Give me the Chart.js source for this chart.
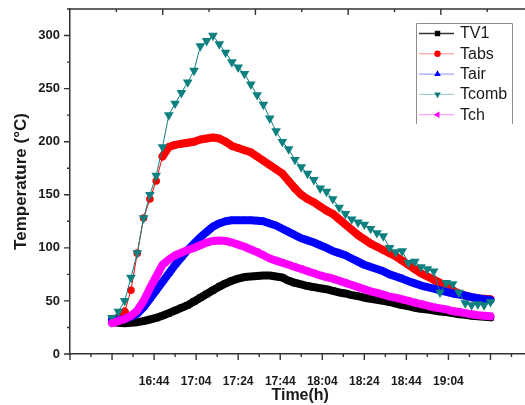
<!DOCTYPE html>
<html>
<head>
  <meta charset="UTF-8">
  <title>Temperature vs time</title>
  <script src="https://cdn.jsdelivr.net/npm/chart.js"></script>
  <style>
    html, body { margin: 0; padding: 0; overflow: hidden; background: #fff; }
    canvas { display: block; }
  </style>
</head>
<body>
  <canvas id="chart" width="536" height="405"></canvas>

  <script>
    // time axis in minutes after 16:04, one reading every 3 min
    const minutes = [20, 23, 26, 29, 32, 35, 38, 41, 44, 47,
                     50, 53, 56, 59, 62, 65, 68, 71, 74, 77,
                     80, 83, 86, 89, 92, 95, 98, 101, 104, 107,
                     110, 113, 116, 119, 122, 125, 128, 131, 134, 137,
                     140, 143, 146, 149, 152, 155, 158, 161, 164, 167,
                     170, 173, 176, 179, 182, 185, 188, 191, 194, 197,
                     200];

    const tv1 = [30, 29.5, 29, 29.5, 30, 31, 32.5, 34, 36, 38.5,
                 41, 43.5, 46, 49.5, 53, 56.5, 60, 63.5, 66.5, 69,
                 71, 72.5, 73, 73.5, 74, 74, 73, 72, 69, 67,
                 65.5, 64, 63, 62, 61, 59.5, 58, 57, 55.5, 54.5,
                 53, 52, 51, 50, 49, 47.5, 46, 45, 43.5, 42.5,
                 42, 41, 40, 39.5, 38.5, 37.5, 37, 36, 35.5, 35,
                 34.5];

    const tabs = [32, 34, 40, 60, 95, 128, 146, 163, 186, 195,
                  197, 198, 199, 200, 202, 203, 204, 203, 200, 196,
                  194, 192, 190, 186, 182, 178, 174, 170, 163, 156,
                  150, 146, 143, 139, 135, 132, 127, 122, 117, 112,
                  108, 104, 101, 98, 95, 92, 88, 84, 80, 76,
                  73, 70, 67, 63, 60, 57, 55, 53.5, 52.5, 52,
                  51.5];

    const tair = [33, 32, 33, 35, 38, 44, 52, 60, 68, 76,
                  84, 91, 98, 104, 110, 115, 120, 123, 125, 126,
                  126, 126, 126, 125.5, 125, 123, 121, 118, 115, 112,
                  109, 107, 105, 102.5, 100, 97, 95, 93, 90, 87,
                  84, 82, 80, 78, 75, 73, 71, 68.5, 66.5, 64.5,
                  63, 61.5, 60, 58.5, 57, 56, 55, 53.5, 52.5, 51.5,
                  51];

    const tcomb = [34, 40, 50, 72, 95, 128, 150, 168, 195, 225,
                   236, 246, 256, 267, 290, 295, 300, 292, 284, 275,
                   270, 264, 254, 244, 235, 222, 210, 200, 193, 183,
                   176, 170, 164, 156, 153, 146, 138, 132, 127, 124,
                   122, 118, 114, 111, 100, 96, 97, 86, 87, 82,
                   80, 78, 58, 67, 66, 58, 48, 46, 47, 46,
                   49];

    const tch = [29, 31, 33, 36, 41, 50, 62, 73, 84, 89,
                 93, 95.5, 98, 100, 102.5, 105, 106.5, 107, 106.5, 105,
                 103, 101, 98.5, 96, 93, 90, 88, 86, 84, 82,
                 80, 78, 76, 74, 72.5, 71, 69, 67, 65, 63,
                 61, 59, 57.5, 56, 54, 53, 51.5, 50, 48.5, 47,
                 45.5, 44, 43, 42, 40.5, 39.5, 38.5, 37.5, 36.5, 36,
                 35.5];

    // labelled ticks on the time axis
    const labelMinutes = [40, 60, 80, 100, 120, 140, 160, 180];
    const timeLabels = ['16:44', '17:04', '17:24', '17:44', '18:04', '18:24', '18:44', '19:04'];

    const series = [
      { label: 'TV1',   values: tv1,   color: '#000000', shape: 'rect',     rot: 0,   r: 4.6, band: 8, gap: Infinity },
      { label: 'Tabs',  values: tabs,  color: '#ff0000', shape: 'circle',   rot: 0,   r: 3.8, band: 8, gap: 14 },
      { label: 'Tair',  values: tair,  color: '#0000ff', shape: 'triangle', rot: 0,   r: 4.6, band: 8, gap: Infinity },
      { label: 'Tcomb', values: tcomb, color: '#0f8080', shape: 'triangle', rot: 180, r: 5.6, band: 1, gap: 0 },
      { label: 'Tch',   values: tch,   color: '#ff00ff', shape: 'triangle', rot: -90, r: 4.6, band: 8, gap: Infinity },
    ];

    Chart.defaults.font.family = '"Liberation Sans", Arial, sans-serif';
    Chart.defaults.color = '#1a1a1a';

    function marker(ctx, shape, x, y, r, rot) {
      ctx.beginPath();
      if (shape === 'circle') {
        ctx.arc(x, y, r, 0, Math.PI * 2);
      } else if (shape === 'rect') {
        const s = r * Math.SQRT1_2;
        ctx.rect(x - s, y - s, 2 * s, 2 * s);
      } else {
        let a = rot * Math.PI / 180;
        for (let k = 0; k < 3; k++) {
          const px = x + Math.sin(a) * r, py = y - Math.cos(a) * r;
          k ? ctx.lineTo(px, py) : ctx.moveTo(px, py);
          a += Math.PI * 2 / 3;
        }
        ctx.closePath();
      }
      ctx.fill();
    }

    // no extra room for half tick labels at the axis ends
    function noEndPadding(s) {
      s.paddingTop = 0;
      s.paddingBottom = 0;
      s.paddingLeft = 0;
      s.paddingRight = 0;
    }

    // frame ticks (major/minor), top frame line with its own ticks
    const frameTicks = {
      id: 'frameTicks',
      afterDraw(chart) {
        const { ctx, chartArea: a, scales: { x, y } } = chart;
        ctx.save();
        ctx.strokeStyle = '#333';
        ctx.lineWidth = 1.4;
        ctx.beginPath();
        ctx.moveTo(a.left, a.top);
        ctx.lineTo(a.right, a.top);
        x.ticks.forEach(t => {
          const px = x.getPixelForValue(t.value);
          const len = t.value % 20 === 0 ? 6 : 3;
          ctx.moveTo(px, a.bottom);
          ctx.lineTo(px, a.bottom + len);
        });
        y.ticks.forEach(t => {
          const py = y.getPixelForValue(t.value);
          const len = t.value % 50 === 0 ? 6 : 3;
          ctx.moveTo(a.left, py);
          ctx.lineTo(a.left - len, py);
        });
        const topStep = 22.05;
        for (let k = 1; k * topStep <= x.max; k++) {
          const px = x.getPixelForValue(k * topStep);
          ctx.moveTo(px, a.top);
          ctx.lineTo(px, a.top + (k % 2 === 0 ? 6 : 3));
        }
        ctx.stroke();
        ctx.restore();
      }
    };

    // boxed legend in the upper right corner
    const boxLegend = {
      id: 'boxLegend',
      afterDraw(chart) {
        const ctx = chart.ctx;
        const x0 = 416, y0 = 23, x1 = 512, y1 = 124;
        ctx.save();
        ctx.fillStyle = '#fff';
        ctx.fillRect(x0, y0, x1 - x0, y1 - y0);
        ctx.strokeStyle = '#8c8c8c';
        ctx.lineWidth = 1;
        ctx.beginPath();
        ctx.moveTo(x0 + 0.5, y1);
        ctx.lineTo(x0 + 0.5, y0 + 0.5);
        ctx.lineTo(x1 + 0.5, y0 + 0.5);
        ctx.lineTo(x1 + 0.5, y1);
        ctx.stroke();
        ctx.font = '16px "Liberation Sans", Arial, sans-serif';
        ctx.textBaseline = 'middle';
        series.forEach((s, i) => {
          const yy = 33.5 + i * 20.3;
          ctx.strokeStyle = s.color;
          ctx.globalAlpha = i === 0 ? 0.8 : 0.45;
          ctx.lineWidth = i === 0 ? 1.5 : 1;
          ctx.beginPath();
          ctx.moveTo(419, yy);
          ctx.lineTo(454, yy);
          ctx.stroke();
          ctx.globalAlpha = 1;
          ctx.fillStyle = s.color;
          marker(ctx, s.shape, 437.5, yy, Math.min(s.r, 4.5) * 0.85, s.rot);
          ctx.fillStyle = '#1a1a1a';
          ctx.fillText(s.label, 460, yy + 0.5);
        });
        ctx.restore();
      }
    };

    const chart = new Chart(document.getElementById('chart'), {
      type: 'line',
      data: {
        datasets: series.map((s, i) => ({
          label: s.label,
          data: minutes.map((m, k) => ({ x: m, y: s.values[k] })),
          borderColor: s.color,
          backgroundColor: s.color,
          borderWidth: 1,
          borderJoinStyle: 'round',
          borderCapStyle: 'round',
          pointStyle: s.shape,
          pointRotation: s.rot,
          pointRadius: s.r,
          pointHoverRadius: s.r,
          pointBorderWidth: 0,
          order: series.length - i,
          tension: 0,
          segment: {
            borderWidth: ctx => Math.hypot(ctx.p1.x - ctx.p0.x, ctx.p1.y - ctx.p0.y) < s.gap ? s.band : 1
          }
        }))
      },
      options: {
        responsive: false,
        animation: false,
        layout: { padding: { top: 9, left: 0, right: 0, bottom: 0 } },
        plugins: { legend: { display: false }, tooltip: { enabled: false } },
        scales: {
          x: {
            type: 'linear',
            min: 0,
            max: 219,
            afterFit: s => { s.height = 51; noEndPadding(s); },
            border: { display: true, color: '#333', width: 1.5 },
            grid: { drawOnChartArea: false, drawTicks: false },
            ticks: {
              stepSize: 10,
              includeBounds: false,
              autoSkip: false,
              maxRotation: 0,
              minRotation: 0,
              padding: 20,
              font: { size: 12, weight: 'bold' },
              callback: v => {
                const i = labelMinutes.indexOf(v);
                return i >= 0 ? timeLabels[i] : '';
              }
            },
            title: {
              display: true,
              text: 'Time(h)',
              font: { size: 16, weight: 'bold' },
              padding: { top: 0, bottom: 0 }
            }
          },
          y: {
            min: 0,
            max: 325,
            afterFit: s => { s.width = 70; noEndPadding(s); },
            border: { display: true, color: '#333', width: 1.5 },
            grid: { drawOnChartArea: false, drawTicks: false },
            ticks: {
              stepSize: 25,
              autoSkip: false,
              padding: 10,
              font: { size: 13, weight: 'bold' },
              callback: v => v % 50 === 0 ? v : ''
            },
            title: {
              display: true,
              text: 'Temperature (°C)',
              font: { size: 17, weight: 'bold' },
              padding: { top: 11, bottom: 0 }
            }
          }
        }
      },
      plugins: [frameTicks, boxLegend]
    });
  </script>
</body>
</html>
